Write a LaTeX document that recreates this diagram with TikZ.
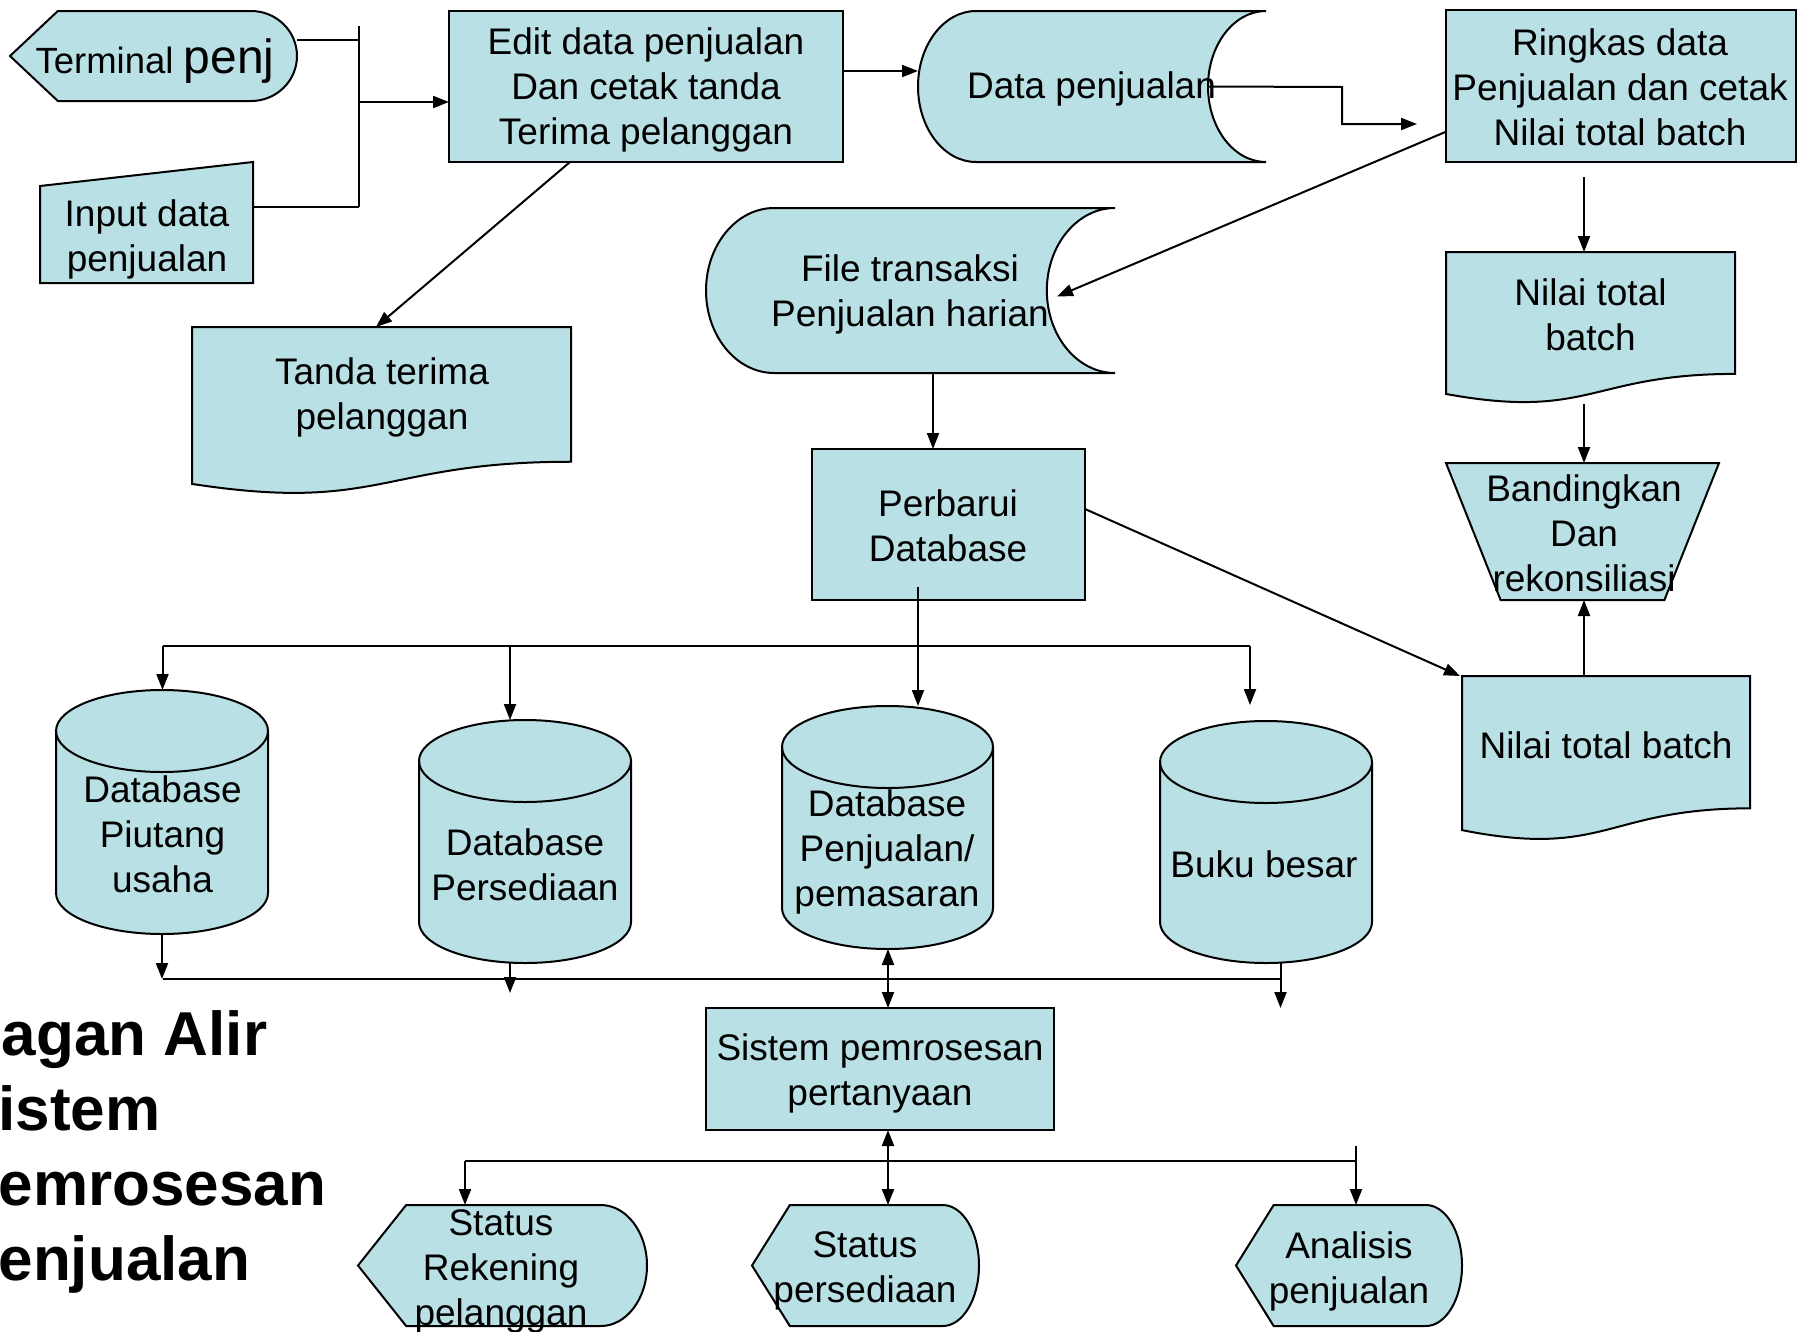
\documentclass[tikz,border=0pt]{standalone}
\usepackage{fontspec}
\setmainfont{Liberation Sans}
\usetikzlibrary{arrows.meta,calc}
\definecolor{shapefill}{RGB}{185,224,228}
\tikzset{
  ln/.style={line width=2pt, line join=miter},
  outline/.style={ln, draw=black, fill=shapefill},
  ghost/.style={draw=none, fill=none, inner sep=0pt, outer sep=0pt},
  rectbox/.style={outline, inner sep=0pt, outer sep=0pt},
  txt/.style={inner sep=0pt, align=center, font=\fontsize{37}{45}\selectfont},
  titletxt/.style={inner sep=0pt, align=left, font=\bfseries\fontsize{62}{75}\selectfont},
  arr/.style={ln, -{Triangle[length=16pt,width=12pt]}},
  darr/.style={ln, {Triangle[length=16pt,width=12pt]}-{Triangle[length=16pt,width=12pt]}}
}
% document shape: name, x1, y1, x2, h
\newcommand\DocShape[5]{%
  \node[ghost, minimum width={(#4-#2)*1pt}, minimum height={#5*1pt}] (#1) at ({(#2+#4)/2},{#3+#5/2}) {};
  \filldraw[outline] (#2,#3) -- (#4,#3) -- (#4,{#3+0.802*#5})
    .. controls ({(#2+#4)/2},{#3+0.802*#5}) and ({(#2+#4)/2},{#3+1.1075*#5}) .. (#2,{#3+0.934*#5}) -- cycle;
}
% display shape: name, x1, y1, x2, y2
\newcommand\DispShape[5]{%
  \pgfmathsetmacro\Dw{#4-#2}%
  \pgfmathsetmacro\Dc{#2+\Dw/6}%
  \pgfmathsetmacro\Drx{0.16*\Dw}%
  \pgfmathsetmacro\De{#4-\Drx}%
  \pgfmathsetmacro\Dym{(#3+#5)/2}%
  \pgfmathsetmacro\Dry{(#5-#3)/2}%
  \node[ghost, minimum width={\Dw*1pt}, minimum height={(#5-#3)*1pt}] (#1) at ({(#2+#4)/2},\Dym) {};
  \filldraw[outline] (#2,\Dym) -- (\Dc,#3) -- (\De,#3)
    .. controls ({\De+0.5523*\Drx},#3) and (#4,{\Dym-0.5523*\Dry}) .. (#4,\Dym)
    .. controls (#4,{\Dym+0.5523*\Dry}) and ({\De+0.5523*\Drx},#5) .. (\De,#5)
    -- (\Dc,#5) -- cycle;
}
% stored data shape: name, x1, y1, x2, y2
\newcommand\StoreShape[5]{%
  \pgfmathsetmacro\Sa{(#4-#2)/6}%
  \pgfmathsetmacro\Sym{(#3+#5)/2}%
  \pgfmathsetmacro\Sry{(#5-#3)/2}%
  \node[ghost, minimum width={(#4-#2)*1pt}, minimum height={(#5-#3)*1pt}] (#1) at ({(#2+#4)/2},\Sym) {};
  \filldraw[outline] ({#2+\Sa},#3) -- (#4,#3)
    .. controls ({#4-0.5523*\Sa},#3) and ({#4-\Sa},{\Sym-0.5523*\Sry}) .. ({#4-\Sa},\Sym)
    .. controls ({#4-\Sa},{\Sym+0.5523*\Sry}) and ({#4-0.5523*\Sa},#5) .. (#4,#5)
    -- ({#2+\Sa},#5)
    .. controls ({#2+\Sa-0.5523*\Sa},#5) and (#2,{\Sym+0.5523*\Sry}) .. (#2,\Sym)
    .. controls (#2,{\Sym-0.5523*\Sry}) and ({#2+\Sa-0.5523*\Sa},#3) .. ({#2+\Sa},#3) -- cycle;
}
% cylinder: name, cx, y1, y2, rx, ry
\newcommand\CylShape[6]{%
  \node[ghost, minimum width={2*#5*1pt}, minimum height={(#4-#3)*1pt}] (#1) at (#2,{(#3+#4)/2}) {};
  \filldraw[outline] ({#2-#5},{#3+#6}) -- ({#2-#5},{#4-#6})
    .. controls ({#2-#5},{#4-#6+0.5523*#6}) and ({#2-0.5523*#5},#4) .. (#2,#4)
    .. controls ({#2+0.5523*#5},#4) and ({#2+#5},{#4-#6+0.5523*#6}) .. ({#2+#5},{#4-#6})
    -- ({#2+#5},{#3+#6})
    .. controls ({#2+#5},{#3+#6-0.5523*#6}) and ({#2+0.5523*#5},#3) .. (#2,#3)
    .. controls ({#2-0.5523*#5},#3) and ({#2-#5},{#3+#6-0.5523*#6}) .. ({#2-#5},{#3+#6}) -- cycle;
  \draw[ln] ({#2-#5},{#3+#6})
    .. controls ({#2-#5},{#3+#6+0.5523*#6}) and ({#2-0.5523*#5},{#3+2*#6}) .. (#2,{#3+2*#6})
    .. controls ({#2+0.5523*#5},{#3+2*#6}) and ({#2+#5},{#3+#6+0.5523*#6}) .. ({#2+#5},{#3+#6});
}
\begin{document}
\begin{tikzpicture}[x=1pt,y=-1pt]
\useasboundingbox (0,0) rectangle (1806,1331);
\fill[white] (0,0) rectangle (1806,1331);
\clip (0,0) rectangle (1806,1331);

% ---- rectangles
\node[rectbox, minimum width=394pt, minimum height=151pt] (edit) at (646,86.5) {};
\node[rectbox, minimum width=350pt, minimum height=152pt] (ringkas) at (1621,86) {};
\node[rectbox, minimum width=273pt, minimum height=151pt] (perbarui) at (948.5,524.5) {};
\node[rectbox, minimum width=348pt, minimum height=122pt] (sistem) at (880,1069) {};

% ---- other symbols
\DispShape{term}{10}{11}{297}{101}
\node[ghost, minimum width=213pt, minimum height=121pt] (input) at (146.5,222.5) {};
\filldraw[outline] (40,186) -- (253,162) -- (253,283) -- (40,283) -- cycle;
\DocShape{tanda}{192}{327}{571}{168}
\StoreShape{data}{918}{11}{1266}{162}
\StoreShape{file}{706}{208}{1115}{373}
\DocShape{nilaiA}{1446}{252}{1735}{152}
\node[ghost, minimum width=273pt, minimum height=137pt] (banding) at (1582.5,531.5) {};
\filldraw[outline] (1446,463) -- (1719,463) -- (1664.4,600) -- (1500.6,600) -- cycle;
\DocShape{nilaiB}{1462}{676}{1750}{165}
\CylShape{dbA}{162}{690}{934}{106}{41}
\CylShape{dbB}{525}{720}{963}{106}{41}
\CylShape{dbC}{887.5}{706}{949}{105.5}{41}
\CylShape{dbD}{1266}{721}{963}{106}{41}
\DispShape{stA}{358}{1205}{647}{1326}
\DispShape{stB}{752}{1205}{979}{1326}
\DispShape{stC}{1236}{1205}{1462}{1326}

% ---- texts
\node[txt, font=\fontsize{36.5}{42}\selectfont] (termT) at (155,61) {Terminal {\fontsize{48}{48}\selectfont penj}};
\node[txt] (inputT) at (147,239) {Input data\\penjualan};
\node[txt] (editT) at (646,89.5) {Edit data penjualan\\Dan cetak tanda\\Terima pelanggan};
\node[txt] (tandaT) at (382,397.5) {Tanda terima\\pelanggan};
\node[txt] (dataT) at (1091.5,89) {Data penjualan};
\node[txt] (ringkasT) at (1620,87) {Ringkas data\\Penjualan dan cetak\\Nilai total batch};
\node[txt] (fileT) at (910,294) {File transaksi\\Penjualan harian};
\node[txt] (perbaruiT) at (948,525.5) {Perbarui\\Database};
\node[txt] (nilaiAT) at (1590.5,315) {Nilai total\\batch};
\node[txt] (bandingT) at (1584,533) {Bandingkan\\Dan\\rekonsiliasi};
\node[txt] (nilaiBT) at (1606,745) {Nilai total batch};
\node[txt] (dbAT) at (162.5,834) {Database\\Piutang\\usaha};
\node[txt] (dbBT) at (525,864.5) {Database\\Persediaan};
\node[txt] (dbCT) at (887,852) {Database\\Penjualan/\\pemasaran};
\node[txt] (dbDT) at (1264,864.5) {Buku besar};
\node[txt] (sistemT) at (880,1073.5) {Sistem pemrosesan\\pertanyaan};
\node[txt] (stAT) at (501,1271.5) {Status\\Rekening\\pelanggan};
\node[txt] (stBT) at (865,1271) {Status\\persediaan};
\node[txt] (stCT) at (1349,1271) {Analisis\\penjualan};
\node[titletxt, anchor=west] (titleT) at (-43,1152) {Bagan Alir\\Sistem\\Pemrosesan\\Penjualan};

% ---- connectors: inputs to edit
\coordinate (busAtop) at (359,26);
\coordinate (busAbot) at (359,207);
\coordinate (busAmid) at (359,102);
\draw[ln] (busAtop) -- (busAbot);
\draw[ln] ([yshift=16pt]term.east) -- ([yshift=16pt]term.east -| busAtop);
\draw[ln] ([yshift=15.5pt]input.east) -- ([yshift=15.5pt]input.east -| busAtop);
\draw[arr] (busAmid) -- (busAmid -| edit.west);

\draw[arr] ([yshift=15.5pt]edit.east) -- ([yshift=15.5pt]edit.east -| data.west);
\coordinate (dr1) at (1342,87);
\coordinate (dr2) at (1417,124);
\draw[arr] ([xshift=-58pt]data.east) -- (dr1) |- (dr2);
\draw[arr] ([yshift=-45.7pt]ringkas.west) -- ([xshift=-58pt,yshift=-6pt]file.east);
\draw[arr] ([xshift=-76pt]edit.south) -- ([xshift=-5.5pt]tanda.north);
\draw[arr] ([xshift=22.5pt]file.south) -- ([xshift=22.5pt]file.south |- perbarui.north);
\draw[arr] ([xshift=-37pt,yshift=-15pt]ringkas.south) -- ([xshift=-37pt]ringkas.south |- nilaiA.north);
\draw[arr] ([xshift=-6.5pt]nilaiA.south) -- ([xshift=-6.5pt]nilaiA.south |- banding.north);
\draw[arr] ([yshift=15.5pt]perbarui.east) -- ([xshift=-2pt]nilaiB.north west);
\draw[arr] ([xshift=-22pt]nilaiB.north) -- ([xshift=-22pt]nilaiB.north |- banding.south);

% ---- update bus
\coordinate (busBL) at (162.5,646);
\coordinate (busBR) at (1250,646);
\draw[ln] (busBL) -- (busBR);
\draw[arr] ([xshift=-30.5pt,yshift=13pt]perbarui.south) -- ([xshift=-30.5pt]perbarui.south |- dbC.north);
\draw[arr] (busBL) -- (busBL |- dbA.north);
\draw[arr] ([xshift=-15pt]dbB.north |- busBL) -- ([xshift=-15pt]dbB.north);
\draw[arr] (busBR) -- ([yshift=16pt]dbD.north -| busBR);

% ---- query bus
\coordinate (busCL) at (162.5,979);
\coordinate (busCR) at (1280.5,979);
\draw[ln] (busCL) -- (busCR);
\draw[arr] (dbA.south) -- (dbA.south |- busCL);
\draw[arr] ([xshift=-15pt]dbB.south) -- ([xshift=-15pt,yshift=-30pt]dbB.south);
\draw[arr] ([xshift=14.5pt]dbD.south) -- ([xshift=14.5pt,yshift=-45pt]dbD.south);
\draw[darr] ([xshift=0.5pt]dbC.south) -- ([xshift=0.5pt]dbC.south |- sistem.north);

% ---- output bus
\coordinate (busDL) at (465,1160.5);
\coordinate (busDR) at (1356,1160.5);
\coordinate (busDtop) at (1356,1146);
\draw[ln] (busDL) -- (busDR);
\draw[darr] ([xshift=8pt]sistem.south) -- ([xshift=8pt]sistem.south |- stB.north);
\draw[arr] (busDtop) -- (busDtop |- stC.north);
\draw[arr] (busDL) -- (busDL |- stA.north);
\end{tikzpicture}
\end{document}
